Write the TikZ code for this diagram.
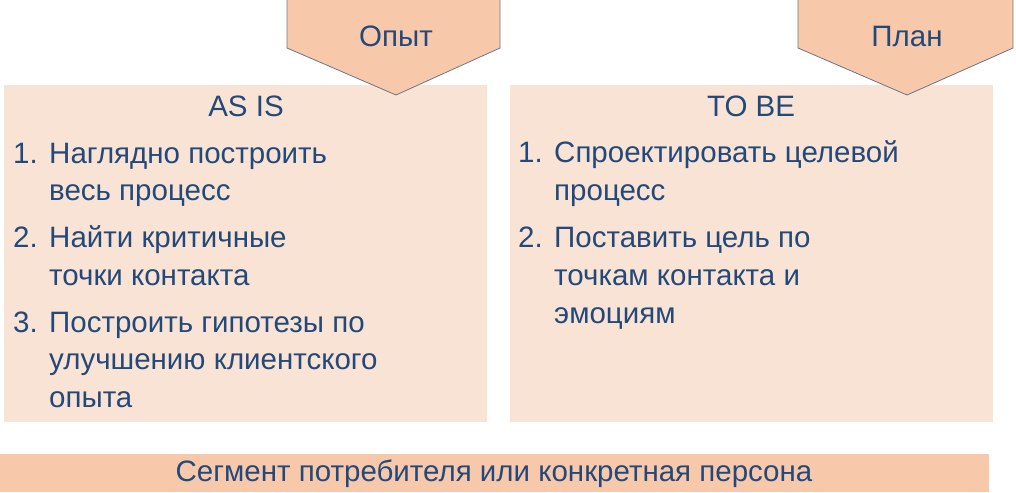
\documentclass[tikz,border=0pt]{standalone}
\usepackage{fontspec}
\setmainfont{Liberation Sans}
\definecolor{txtblue}{HTML}{23497A}
\definecolor{lightpeach}{HTML}{F9E3D5}
\definecolor{peach}{HTML}{F7C9AA}
\definecolor{edgegray}{HTML}{6F7480}
\tikzset{
  panel/.style={fill=lightpeach,draw=none},
  banner/.style={fill=peach,draw=none},
  head/.style={text=txtblue,font=\fontsize{29.5}{32}\selectfont,inner sep=0pt,anchor=base},
  item/.style={text=txtblue,font=\fontsize{29.5}{32}\selectfont,inner sep=0pt,anchor=base west},
}
\begin{document}
\begin{tikzpicture}[x=1pt,y=-1pt]
  \useasboundingbox (0,0) rectangle (1016,492);

  %panels
  \draw[panel] (4,85) rectangle (487,422);
  \draw[panel] (510,85) rectangle (993,422);
  %bottom bar
  \draw[banner] (0,454) rectangle (989,492);

  %arrows on top
  \fill[peach] (287,0) -- (287,48) -- (396,95) -- (500,48) -- (500,0) -- cycle;
  \draw[edgegray,line width=0.8pt] (287,0) -- (287,48) -- (396,95) -- (500,48) -- (500,0);
  \fill[peach] (798,0) -- (798,48) -- (907,95) -- (1013,48) -- (1013,0) -- cycle;
  \draw[edgegray,line width=0.8pt] (798,0) -- (798,48) -- (907,95) -- (1013,48) -- (1013,0);

  \node[head] (opyt) at (396,47) {Опыт};
  \node[head] (plan) at (907,47) {План};

  % left panel
  \node[head] (asis) at (246,117) {AS IS};
  \node[item] (l1n) at (13,163) {1.};
  \node[item] (l1a) at (49,163) {Наглядно построить};
  \node[item] (l1b) at (49,200) {весь процесс};
  \node[item] (l2n) at (13,247) {2.};
  \node[item] (l2a) at (49,247) {Найти критичные};
  \node[item] (l2b) at (49,285) {точки контакта};
  \node[item] (l3n) at (13,332) {3.};
  \node[item] (l3a) at (49,332) {Построить гипотезы по};
  \node[item] (l3b) at (49,369) {улучшению клиентского};
  \node[item] (l3c) at (49,407) {опыта};

  % right panel
  \node[head] (tobe) at (751,117) {TO BE};
  \node[item] (r1n) at (518,162) {1.};
  \node[item] (r1a) at (554,162) {Спроектировать целевой};
  \node[item] (r1b) at (554,200) {процесс};
  \node[item] (r2n) at (518,247) {2.};
  \node[item] (r2a) at (554,247) {Поставить цель по};
  \node[item] (r2b) at (554,285) {точкам контакта и};
  \node[item] (r2c) at (554,323) {эмоциям};

  \node[head] (segment) at (494,481) {Сегмент потребителя или конкретная персона};
\end{tikzpicture}
\end{document}
